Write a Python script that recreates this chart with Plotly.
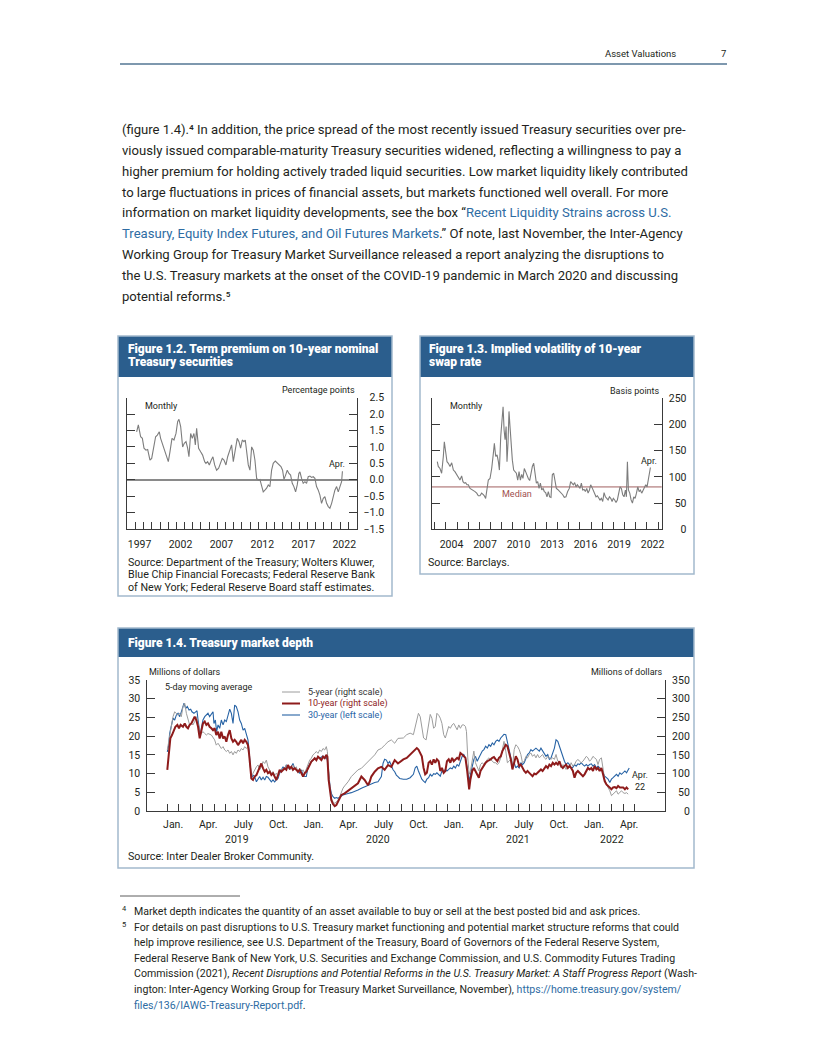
import plotly.graph_objects as go

# ---------------- data ----------------
# Figure 1.2: term premium on 10-year nominal Treasury (percentage points), monthly
TP_YEAR = [1997.14, 1997.35, 1997.63, 1997.84, 1998.04, 1998.28, 1998.49, 1998.77, 1998.98, 1999.18,
           1999.46, 1999.67, 1999.91, 2000.07, 2000.28, 2000.52, 2000.81, 2001.01, 2001.21, 2001.46,
           2001.70, 2001.95, 2002.15, 2002.31, 2002.52, 2002.76, 2002.96, 2003.17, 2003.37, 2003.53,
           2003.74, 2003.94, 2004.14, 2004.31, 2004.47, 2004.71, 2004.96, 2005.20, 2005.45, 2005.61,
           2005.81, 2006.02, 2006.26, 2006.46, 2006.67, 2006.91, 2007.16, 2007.40, 2007.60, 2007.81,
           2008.05, 2008.26, 2008.54, 2008.74, 2008.95, 2009.19, 2009.43, 2009.64, 2009.84, 2010.05,
           2010.25, 2010.41, 2010.58, 2010.78, 2010.98, 2011.19, 2011.39, 2011.59, 2011.80, 2012.00,
           2012.20, 2012.41, 2012.61, 2012.81, 2013.02, 2013.22, 2013.42, 2013.63, 2013.83, 2014.08,
           2014.32, 2014.57, 2014.77, 2014.97, 2015.14, 2015.34, 2015.54, 2015.74, 2015.95, 2016.15,
           2016.35, 2016.56, 2016.76, 2016.96, 2017.09, 2017.29, 2017.49, 2017.70, 2017.90, 2018.10,
           2018.31, 2018.51, 2018.71, 2018.92, 2019.12, 2019.33, 2019.53, 2019.73, 2019.94, 2020.14,
           2020.35, 2020.55, 2020.75, 2020.96, 2021.16, 2021.36, 2021.57, 2021.77, 2021.98, 2022.18,
           2022.28]
TP_VALUE = [1.46, 1.67, 1.31, 1.26, 0.96, 0.90, 0.92, 0.60, 0.65, 0.96,
            1.31, 1.36, 1.46, 1.26, 1.11, 0.90, 0.70, 0.55, 0.85, 1.26,
            1.21, 1.41, 1.77, 1.84, 1.62, 1.00, 1.11, 1.16, 0.96, 0.70,
            1.41, 1.26, 1.41, 1.06, 1.57, 0.96, 0.85, 0.75, 0.55, 0.50,
            0.55, 0.45, 0.60, 0.70, 0.45, 0.29, 0.35, 0.55, 0.65, 0.60,
            0.45, 0.70, 0.90, 1.06, 0.55, 0.85, 1.26, 1.16, 0.96, 1.21,
            1.16, 1.21, 0.80, 0.45, 0.29, 1.00, 0.90, 0.60, 0.04, -0.01,
            0.01, -0.21, -0.37, -0.32, -0.26, -0.16, -0.21, 0.29, 0.50, 0.57,
            0.50, 0.45, 0.40, 0.29, 0.01, 0.14, 0.29, 0.19, 0.14, -0.11,
            -0.21, -0.37, -0.16, 0.19, 0.24, 0.04, -0.11, -0.06, -0.11, 0.09,
            0.11, 0.07, 0.09, 0.04, -0.21, -0.32, -0.47, -0.72, -0.57, -0.52,
            -0.72, -0.82, -0.87, -0.72, -0.52, -0.32, -0.21, -0.37, -0.21, -0.06,
            0.26]
TP_LABEL_YEARS = [1997, 2002, 2007, 2012, 2017, 2022]
TP_YTICKS = [-1.5, -1.0, -0.5, 0.0, 0.5, 1.0, 1.5, 2.0, 2.5]

# Figure 1.3: implied volatility of 10-year swap rate (basis points), monthly
IV_YEAR = [2003.23, 2003.32, 2003.47, 2003.62, 2003.77, 2003.86, 2003.98, 2004.10, 2004.22, 2004.37,
           2004.52, 2004.67, 2004.81, 2004.96, 2005.11, 2005.26, 2005.41, 2005.53, 2005.65, 2005.77,
           2005.89, 2006.01, 2006.16, 2006.31, 2006.46, 2006.61, 2006.76, 2006.90, 2007.05, 2007.20,
           2007.35, 2007.44, 2007.56, 2007.68, 2007.80, 2007.95, 2008.10, 2008.25, 2008.34, 2008.46,
           2008.58, 2008.70, 2008.79, 2008.91, 2009.03, 2009.12, 2009.21, 2009.30, 2009.39, 2009.47,
           2009.56, 2009.65, 2009.74, 2009.83, 2009.95, 2010.07, 2010.19, 2010.31, 2010.43, 2010.55,
           2010.67, 2010.79, 2010.90, 2011.02, 2011.14, 2011.26, 2011.38, 2011.50, 2011.62, 2011.74,
           2011.86, 2011.98, 2012.10, 2012.22, 2012.34, 2012.46, 2012.58, 2012.70, 2012.81, 2012.93,
           2013.05, 2013.17, 2013.29, 2013.41, 2013.53, 2013.65, 2013.77, 2013.89, 2014.01, 2014.16,
           2014.31, 2014.46, 2014.60, 2014.75, 2014.90, 2015.05, 2015.17, 2015.29, 2015.41, 2015.53,
           2015.65, 2015.77, 2015.89, 2016.01, 2016.13, 2016.25, 2016.37, 2016.49, 2016.61, 2016.73,
           2016.85, 2016.96, 2017.08, 2017.20, 2017.32, 2017.44, 2017.56, 2017.68, 2017.80, 2017.92,
           2018.04, 2018.16, 2018.28, 2018.40, 2018.52, 2018.64, 2018.76, 2018.88, 2018.99, 2019.11,
           2019.23, 2019.35, 2019.47, 2019.59, 2019.71, 2019.83, 2019.95, 2020.07, 2020.16, 2020.25,
           2020.34, 2020.46, 2020.58, 2020.70, 2020.82, 2020.94, 2021.06, 2021.18, 2021.30, 2021.41,
           2021.53, 2021.65, 2021.77, 2021.89, 2022.01, 2022.13, 2022.22, 2022.31]
IV_VALUE = [129, 120, 116, 107, 139, 167, 148, 129, 126, 120,
            127, 113, 110, 104, 99, 94, 102, 91, 88, 89,
            85, 85, 78, 76, 75, 72, 69, 64, 64, 69,
            66, 64, 59, 81, 94, 97, 116, 145, 164, 139,
            142, 129, 113, 177, 209, 234, 190, 171, 196, 129,
            164, 225, 196, 164, 132, 113, 110, 107, 94, 110,
            94, 105, 97, 116, 110, 101, 97, 93, 107, 120,
            126, 110, 88, 91, 78, 88, 75, 78, 72, 70,
            62, 72, 62, 61, 104, 107, 94, 78, 76, 73,
            69, 66, 61, 62, 72, 78, 91, 88, 85, 89,
            81, 85, 80, 78, 88, 75, 76, 72, 78, 69,
            75, 85, 80, 75, 69, 62, 64, 59, 56, 59,
            53, 70, 62, 59, 56, 62, 59, 53, 59, 56,
            51, 56, 66, 81, 78, 66, 62, 75, 62, 129,
            75, 69, 56, 50, 62, 59, 69, 81, 72, 75,
            69, 75, 78, 85, 81, 94, 107, 118]
IV_MEDIAN = 81
IV_LABEL_YEARS = [2004, 2007, 2010, 2013, 2016, 2019, 2022]
IV_YTICKS = [0, 50, 100, 150, 200, 250]

# Figure 1.4: Treasury market depth, 5-day moving average (millions of dollars)
# x = months since January 1, 2019
D5_M = [0.00, 0.12, 0.23, 0.35, 0.49, 0.63, 0.77, 0.92, 1.06, 1.20, 1.34, 1.49, 1.63, 1.77, 1.91,
        2.06, 2.20, 2.34, 2.48, 2.63, 2.77, 2.91, 3.05, 3.20, 3.34, 3.48, 3.77, 4.05, 4.19, 4.34,
        4.48, 4.62, 4.77, 4.91, 5.05, 5.19, 5.34, 5.48, 5.62, 5.76, 5.90, 6.05, 6.19, 6.33, 6.48,
        6.62, 6.76, 6.90, 6.99, 7.10, 7.19, 7.33, 7.47, 7.62, 7.76, 7.90, 8.04, 8.19, 8.33, 8.47,
        8.61, 8.76, 8.90, 9.04, 9.18, 9.33, 9.47, 9.61, 9.75, 9.90, 10.04, 10.18, 10.32, 10.47, 10.61,
        10.75, 10.89, 11.04, 11.18, 11.32, 11.47, 11.61, 11.75, 11.89, 12.04, 12.18, 12.32, 12.46, 12.61, 12.75,
        12.89, 13.03, 13.18, 13.32, 13.46, 13.60, 13.69, 13.80, 13.92, 14.03, 14.17, 14.32, 14.46, 14.60, 14.74,
        14.89, 15.03, 15.17, 15.46, 15.74, 16.03, 16.31, 16.60, 16.88, 17.17, 17.45, 17.74, 18.02, 18.31, 18.59,
        18.88, 19.16, 19.45, 19.73, 20.19, 20.48, 20.77, 21.05, 21.34, 21.48, 21.63, 21.77, 21.92, 22.14, 22.35,
        22.49, 22.63, 22.78, 22.92, 23.06, 23.21, 23.35, 23.49, 23.64, 23.78, 23.92, 24.07, 24.21, 24.36, 24.50,
        24.64, 24.79, 24.93, 25.07, 25.22, 25.36, 25.50, 25.59, 25.70, 25.82, 25.93, 26.08, 26.22, 26.36, 26.51,
        26.65, 26.79, 26.94, 27.08, 27.23, 27.37, 27.51, 27.66, 27.80, 27.94, 28.09, 28.23, 28.37, 28.52, 28.66,
        28.80, 28.95, 29.09, 29.23, 29.38, 29.52, 29.67, 29.81, 29.95, 30.10, 30.24, 30.38, 30.53, 30.67, 30.81,
        30.96, 31.10, 31.24, 31.39, 31.53, 31.67, 31.82, 31.96, 32.10, 32.25, 32.39, 32.54, 32.68, 32.82, 32.97,
        33.11, 33.25, 33.40, 33.54, 33.68, 33.83, 33.97, 34.11, 34.26, 34.40, 34.54, 34.69, 34.83, 34.97, 35.12,
        35.26, 35.40, 35.55, 35.69, 35.84, 35.98, 36.12, 36.27, 36.41, 36.55, 36.70, 36.84, 36.98, 37.13, 37.27,
        37.41, 37.56, 37.70, 37.85, 37.99, 38.13, 38.28, 38.42, 38.56, 38.71, 38.85, 38.99, 39.14, 39.28, 39.42]
D5_V = [163, 185, 216, 234, 252, 265, 261, 256, 261, 252, 279, 288, 261, 243, 230,
        234, 230, 239, 252, 234, 216, 207, 212, 207, 203, 207, 203, 190, 176, 181,
        172, 167, 172, 163, 159, 163, 154, 159, 150, 159, 154, 163, 159, 167, 163,
        172, 167, 172, 154, 110, 92, 101, 110, 118, 123, 110, 118, 132, 127, 136,
        118, 110, 101, 105, 96, 101, 92, 105, 110, 114, 110, 123, 118, 110, 118,
        123, 114, 118, 101, 114, 105, 110, 101, 114, 123, 136, 141, 150, 154, 159,
        154, 163, 159, 167, 163, 172, 159, 92, 56, 34, 25, 20, 25, 29, 38,
        52, 61, 67, 78, 92, 101, 110, 114, 123, 132, 141, 150, 163, 167, 176,
        185, 190, 181, 194, 195, 204, 208, 204, 248, 261, 252, 221, 195, 190, 239,
        258, 248, 221, 226, 261, 256, 248, 234, 204, 195, 212, 226, 221, 230, 234,
        226, 217, 230, 221, 230, 230, 226, 212, 142, 98, 107, 133, 160, 129, 115,
        107, 124, 129, 124, 133, 138, 142, 138, 133, 129, 129, 124, 129, 142, 164,
        186, 160, 129, 133, 138, 115, 164, 177, 173, 164, 151, 129, 133, 146, 142,
        151, 155, 146, 151, 142, 151, 142, 146, 151, 142, 138, 146, 142, 138, 142,
        138, 151, 133, 129, 115, 124, 120, 111, 120, 115, 129, 120, 124, 133, 138,
        133, 129, 133, 138, 146, 142, 133, 138, 146, 142, 138, 124, 138, 142, 107,
        85, 71, 63, 54, 41, 45, 49, 54, 45, 49, 54, 49, 47, 49, 45]

D10_M = [0.00, 0.06, 0.15, 0.26, 0.40, 0.54, 0.69, 0.86, 1.00, 1.14, 1.34, 1.49, 1.63, 1.77, 1.91,
         2.06, 2.20, 2.34, 2.48, 2.63, 2.77, 2.91, 3.05, 3.20, 3.34, 3.48, 3.62, 3.77, 3.91, 4.05,
         4.19, 4.34, 4.48, 4.62, 4.77, 4.91, 5.05, 5.19, 5.34, 5.48, 5.62, 5.76, 5.90, 6.05, 6.19,
         6.33, 6.48, 6.62, 6.76, 6.90, 6.99, 7.10, 7.19, 7.33, 7.47, 7.62, 7.76, 7.90, 8.04, 8.19,
         8.33, 8.47, 8.61, 8.76, 8.90, 9.04, 9.18, 9.33, 9.47, 9.61, 9.75, 9.90, 10.04, 10.18, 10.32,
         10.47, 10.61, 10.75, 10.89, 11.04, 11.18, 11.32, 11.47, 11.61, 11.75, 11.89, 12.04, 12.18, 12.32, 12.46,
         12.61, 12.75, 12.89, 13.03, 13.18, 13.32, 13.46, 13.60, 13.69, 13.80, 13.92, 14.03, 14.17, 14.32, 14.46,
         14.60, 14.74, 14.89, 15.17, 15.46, 15.74, 16.03, 16.31, 16.60, 16.88, 17.17, 17.31, 17.45, 17.74, 18.02,
         18.31, 18.59, 18.88, 19.16, 19.45, 19.73, 20.19, 20.48, 20.77, 21.05, 21.20, 21.34, 21.48, 21.63, 21.77,
         21.92, 22.06, 22.20, 22.35, 22.49, 22.63, 22.78, 22.92, 23.06, 23.21, 23.35, 23.49, 23.64, 23.78, 23.92,
         24.07, 24.21, 24.36, 24.50, 24.64, 24.79, 24.93, 25.07, 25.22, 25.36, 25.50, 25.65, 25.73, 25.82, 25.93,
         26.08, 26.22, 26.36, 26.51, 26.65, 26.79, 26.94, 27.08, 27.23, 27.37, 27.51, 27.66, 27.80, 27.94, 28.09,
         28.23, 28.37, 28.52, 28.66, 28.80, 28.95, 29.09, 29.23, 29.38, 29.52, 29.67, 29.81, 29.95, 30.10, 30.24,
         30.38, 30.53, 30.67, 30.81, 30.96, 31.10, 31.24, 31.39, 31.53, 31.67, 31.82, 31.96, 32.10, 32.25, 32.39,
         32.54, 32.68, 32.82, 32.97, 33.11, 33.25, 33.40, 33.54, 33.68, 33.83, 33.97, 34.11, 34.26, 34.40, 34.54,
         34.69, 34.83, 34.97, 35.12, 35.26, 35.40, 35.55, 35.69, 35.84, 35.98, 36.12, 36.27, 36.41, 36.55, 36.70,
         36.84, 36.98, 37.13, 37.27, 37.41, 37.56, 37.70, 37.85, 37.99, 38.13, 38.28, 38.42, 38.56, 38.71, 38.85,
         38.99, 39.14, 39.28, 39.42]
D10_V = [110, 136, 172, 194, 203, 212, 225, 230, 221, 230, 225, 234, 225, 221, 230,
         234, 243, 252, 243, 225, 194, 212, 234, 239, 230, 234, 225, 221, 216, 221,
         203, 212, 194, 212, 194, 199, 185, 203, 216, 194, 185, 190, 185, 176, 185,
         190, 181, 190, 185, 176, 154, 110, 87, 83, 92, 96, 105, 114, 127, 114,
         105, 110, 101, 105, 96, 101, 92, 83, 96, 110, 105, 110, 114, 110, 123,
         114, 118, 110, 114, 110, 105, 110, 101, 92, 101, 105, 114, 123, 132, 136,
         141, 136, 145, 141, 136, 145, 141, 150, 145, 83, 47, 29, 19, 13, 16,
         25, 34, 43, 47, 54, 61, 69, 74, 92, 83, 69, 78, 92, 105, 114,
         118, 110, 123, 118, 136, 127, 138, 142, 151, 160, 164, 168, 164, 155, 146,
         115, 98, 102, 129, 133, 124, 138, 129, 138, 133, 107, 115, 102, 107, 133,
         138, 129, 142, 133, 138, 142, 138, 155, 151, 146, 142, 107, 80, 58, 85,
         107, 115, 107, 98, 89, 107, 115, 124, 129, 133, 135, 138, 142, 144, 138,
         133, 142, 146, 160, 168, 177, 173, 155, 138, 111, 133, 146, 138, 120, 124,
         115, 107, 102, 107, 102, 98, 93, 100, 98, 102, 107, 111, 107, 115, 120,
         115, 124, 120, 129, 124, 129, 124, 133, 120, 115, 120, 124, 115, 120, 115,
         107, 89, 102, 107, 102, 98, 93, 98, 107, 115, 111, 115, 107, 120, 111,
         115, 107, 115, 98, 80, 71, 67, 63, 58, 63, 64, 61, 67, 63, 64,
         63, 58, 63, 58]

D30_M = [0.00, 0.12, 0.20, 0.35, 0.49, 0.63, 0.77, 0.92, 1.06, 1.20, 1.34, 1.43, 1.57, 1.71, 1.86,
         2.00, 2.11, 2.28, 2.43, 2.54, 2.63, 2.71, 2.83, 2.91, 3.05, 3.20, 3.34, 3.48, 3.62, 3.77,
         3.91, 3.99, 4.11, 4.22, 4.34, 4.48, 4.62, 4.77, 4.91, 5.05, 5.19, 5.34, 5.48, 5.62, 5.76,
         5.90, 6.05, 6.19, 6.33, 6.48, 6.62, 6.76, 6.90, 6.99, 7.10, 7.19, 7.33, 7.47, 7.62, 7.76,
         7.90, 8.04, 8.19, 8.33, 8.47, 8.61, 8.76, 8.90, 9.04, 9.18, 9.33, 9.47, 9.61, 9.75, 9.90,
         10.04, 10.18, 10.32, 10.47, 10.61, 10.75, 10.89, 11.04, 11.18, 11.32, 11.47, 11.61, 11.75, 11.89, 12.04,
         12.18, 12.32, 12.46, 12.61, 12.75, 12.89, 13.03, 13.18, 13.32, 13.46, 13.60, 13.69, 13.80, 13.92, 14.03,
         14.17, 14.32, 14.46, 14.60, 14.74, 14.89, 15.03, 15.17, 15.46, 15.74, 16.03, 16.31, 16.60, 16.88, 17.17,
         17.45, 17.74, 18.02, 18.31, 18.45, 18.59, 18.74, 18.88, 19.02, 19.17, 19.31, 19.45, 19.59, 19.73, 19.88,
         20.19, 20.48, 20.77, 21.05, 21.20, 21.34, 21.48, 21.63, 21.77, 21.92, 22.06, 22.20, 22.35, 22.49, 22.63,
         22.78, 22.92, 23.06, 23.21, 23.35, 23.49, 23.64, 23.78, 23.92, 24.07, 24.21, 24.36, 24.50, 24.64, 24.79,
         24.93, 25.07, 25.22, 25.36, 25.50, 25.65, 25.73, 25.82, 25.93, 26.08, 26.22, 26.36, 26.51, 26.65, 26.79,
         26.94, 27.08, 27.23, 27.37, 27.51, 27.66, 27.80, 27.94, 28.09, 28.23, 28.37, 28.52, 28.66, 28.80, 28.95,
         29.09, 29.23, 29.38, 29.52, 29.67, 29.81, 29.95, 30.10, 30.24, 30.38, 30.53, 30.67, 30.81, 30.96, 31.10,
         31.24, 31.39, 31.53, 31.67, 31.82, 31.96, 32.10, 32.25, 32.39, 32.54, 32.68, 32.82, 32.97, 33.11, 33.25,
         33.40, 33.54, 33.68, 33.83, 33.97, 34.11, 34.26, 34.40, 34.54, 34.69, 34.83, 34.97, 35.12, 35.26, 35.40,
         35.55, 35.69, 35.84, 35.98, 36.12, 36.27, 36.41, 36.55, 36.70, 36.84, 36.98, 37.13, 37.27, 37.41, 37.56,
         37.70, 37.85, 37.99, 38.13, 38.28, 38.42, 38.56, 38.71, 38.85, 38.99, 39.14, 39.28, 39.42, 39.51]
D30_V = [15.8, 17.6, 20.7, 23.0, 24.8, 24.3, 25.6, 26.1, 25.2, 26.5, 27.9, 28.8, 27.4, 27.9, 27.0,
         27.2, 26.5, 26.1, 26.5, 26.8, 24.3, 22.5, 19.9, 22.1, 24.3, 25.2, 25.6, 26.1, 25.2, 25.9,
         26.5, 23.4, 24.3, 21.2, 23.0, 22.1, 24.3, 23.0, 24.3, 23.9, 25.2, 27.2, 26.1, 23.4, 28.3,
         27.9, 26.5, 24.3, 23.4, 21.6, 22.1, 20.3, 19.0, 16.3, 11.8, 8.7, 9.6, 9.2, 7.8, 8.7,
         9.2, 8.3, 9.0, 8.3, 9.2, 9.0, 8.3, 7.8, 8.3, 7.8, 8.3, 8.7, 10.1, 11.0, 11.8,
         11.0, 12.3, 11.8, 11.0, 11.8, 12.7, 11.4, 11.0, 10.5, 10.1, 11.0, 9.6, 9.2, 9.2, 11.8,
         12.7, 13.2, 13.6, 14.1, 13.8, 14.5, 14.1, 14.3, 14.7, 14.1, 14.3, 13.6, 9.2, 6.5, 4.7,
         3.8, 3.4, 3.6, 3.4, 3.8, 4.0, 4.3, 4.5, 4.7, 4.9, 5.2, 5.6, 6.1, 6.5, 6.9,
         7.1, 7.6, 7.8, 9.2, 12.7, 13.8, 13.6, 12.7, 13.2, 11.8, 11.0, 10.5, 9.6, 9.2, 8.7,
         8.5, 8.5, 8.9, 9.8, 11.5, 12.0, 10.7, 9.3, 8.5, 8.0, 7.6, 8.5, 8.9, 9.8, 9.3,
         10.0, 9.8, 10.2, 9.8, 9.3, 10.7, 10.2, 11.1, 10.7, 11.1, 11.5, 11.3, 12.0, 11.5, 12.4,
         12.0, 13.3, 14.6, 15.1, 14.2, 11.5, 9.3, 8.0, 9.8, 12.4, 13.8, 14.6, 13.3, 14.2, 15.1,
         16.0, 16.4, 17.3, 16.8, 17.7, 17.3, 18.2, 17.7, 18.6, 19.0, 18.6, 19.5, 19.9, 20.5, 20.4,
         18.6, 16.8, 14.2, 12.4, 12.9, 11.5, 12.0, 11.5, 12.9, 12.4, 12.9, 14.2, 15.1, 15.5, 16.4,
         16.0, 16.4, 16.8, 16.4, 16.0, 16.8, 16.0, 15.5, 14.6, 15.1, 13.8, 14.2, 15.5, 16.8, 19.0,
         18.6, 17.3, 16.0, 14.2, 13.3, 12.4, 12.9, 12.4, 11.5, 11.7, 12.4, 12.0, 12.6, 12.4, 12.9,
         12.4, 12.0, 12.4, 12.0, 12.4, 12.6, 12.0, 12.4, 11.5, 12.0, 11.5, 11.1, 10.2, 9.3, 8.9,
         8.5, 7.6, 8.5, 8.9, 9.3, 9.8, 9.3, 10.2, 9.8, 10.2, 10.7, 10.2, 11.1, 11.5]
MD_MONTH_LABELS = ["Jan.", "Apr.", "July", "Oct.", "Jan.", "Apr.", "July", "Oct.",
                   "Jan.", "Apr.", "July", "Oct.", "Jan.", "Apr."]
MD_YEAR_LABELS = ["2019", "2020", "2021", "2022"]
MD_LEFT_TICKS = [0, 5, 10, 15, 20, 25, 30, 35]
MD_RIGHT_TICKS = [0, 50, 100, 150, 200, 250, 300, 350]

# ---------------- layout helpers ----------------
# The page body adds an 8 px margin; the figure is sized so that page
# coordinates (0..816, 0..1056) map onto it with that offset.
OFF = 8
W, H = 816 - OFF, 1056 - OFF
FONT = "Roboto"
TXT = "#231f20"
AX = "#3a3a3a"
BAR = "#2b5e8d"
BORDER = "#a3b9cd"
LINK = "#2e6ca3"


def px(x):
    return (x - OFF) / W


def py(y):
    return 1 - (y - OFF) / H


def note(x, y, s, size=10.3, color=TXT, xanchor="left", weight="normal", xref="paper"):
    return dict(x=px(x) if xref == "paper" else x, y=py(y), xref=xref, yref="paper",
                text=s, showarrow=False, xanchor=xanchor, yanchor="middle",
                font=dict(family=FONT, size=size, color=color, weight=weight))


def pad(s, n):
    return "\u2007" * (n - len(s)) + s


def fmt_tp(v):
    return ("\u2212" if v < 0 else "\u2007") + f"{abs(v):.1f}"


fig = go.Figure()

# Figure 1.2 trace
fig.add_trace(go.Scatter(x=TP_YEAR, y=TP_VALUE, mode="lines", xaxis="x", yaxis="y",
                         line=dict(color="#7d7d7d", width=1.1), showlegend=False, hoverinfo="skip"))
# Figure 1.3 trace
fig.add_trace(go.Scatter(x=IV_YEAR, y=IV_VALUE, mode="lines", xaxis="x2", yaxis="y2",
                         line=dict(color="#7d7d7d", width=1.1), showlegend=False, hoverinfo="skip"))
# Figure 1.4 traces
fig.add_trace(go.Scatter(x=D5_M, y=D5_V, mode="lines", xaxis="x3", yaxis="y4",
                         line=dict(color="#9c9c9c", width=1.0), showlegend=False, hoverinfo="skip"))
fig.add_trace(go.Scatter(x=D30_M, y=D30_V, mode="lines", xaxis="x3", yaxis="y3",
                         line=dict(color="#2763a5", width=1.1), showlegend=False, hoverinfo="skip"))
fig.add_trace(go.Scatter(x=D10_M, y=D10_V, mode="lines", xaxis="x3", yaxis="y4",
                         line=dict(color="#8e1b1b", width=2.0), showlegend=False, hoverinfo="skip"))

tickfont = dict(family=FONT, size=10.5, color=TXT)
common_x = dict(showgrid=False, zeroline=False, showline=True, linecolor=AX, linewidth=1,
                ticks="inside", ticklen=0, tickfont=tickfont, automargin=False, fixedrange=True)
common_y = dict(showgrid=False, showline=True, linecolor=AX, linewidth=1, ticks="inside",
                ticklen=8, tickcolor=AX, tickwidth=1, tickfont=tickfont, automargin=False,
                fixedrange=True)

fig.update_layout(
    width=W, height=H, margin=dict(l=0, r=0, t=0, b=0), autosize=False,
    paper_bgcolor="white", plot_bgcolor="rgba(0,0,0,0)", showlegend=False,
    font=dict(family=FONT, color=TXT),
    # ---- Figure 1.2
    xaxis=dict(common_x, domain=[px(127.3), px(356.5)], range=[1996, 2024], anchor="y",
               tickvals=[yr + 0.5 for yr in TP_LABEL_YEARS], ticktext=[str(yr) for yr in TP_LABEL_YEARS],
               ticklabelstandoff=5,
               minor=dict(tickvals=list(range(1996, 2025)), ticks="inside", ticklen=7,
                          tickcolor=AX, tickwidth=1)),
    yaxis=dict(common_y, domain=[py(528.9), py(397.7)], range=[-1.5, 2.5], anchor="x", side="right",
               mirror="ticks", tickvals=TP_YTICKS, ticktext=[fmt_tp(v) for v in TP_YTICKS],
               zeroline=True, zerolinecolor="#8a8a8a", zerolinewidth=1.5, ticklabelstandoff=4),
    # ---- Figure 1.3
    xaxis2=dict(common_x, domain=[px(431.7), px(661.7)], range=[2002.73, 2023.32], anchor="y2",
                tickvals=[yr + 0.5 for yr in IV_LABEL_YEARS], ticktext=[str(yr) for yr in IV_LABEL_YEARS],
                ticklabelstandoff=5,
                minor=dict(tickvals=list(range(2003, 2024)), ticks="inside", ticklen=7,
                           tickcolor=AX, tickwidth=1)),
    yaxis2=dict(common_y, domain=[py(529.3), py(398.3)], range=[0, 250], anchor="x2", side="right",
                mirror="ticks", tickvals=IV_YTICKS, ticktext=[pad(str(v), 3) for v in IV_YTICKS],
                zeroline=False, ticklabelstandoff=4),
    # ---- Figure 1.4
    xaxis3=dict(common_x, domain=[px(147.3), px(665)], range=[-1.711, 42.57], anchor="y3",
                tickvals=[3 * i + 0.5 for i in range(len(MD_MONTH_LABELS))], ticktext=MD_MONTH_LABELS,
                ticklabelstandoff=3,
                minor=dict(tickvals=list(range(0, 41)), ticks="inside", ticklen=7,
                           tickcolor=AX, tickwidth=1)),
    yaxis3=dict(common_y, domain=[py(811), py(680)], range=[0, 35], anchor="x3", side="left",
                tickvals=MD_LEFT_TICKS, zeroline=False, ticklabelstandoff=4),
    yaxis4=dict(common_y, domain=[py(811), py(680)], range=[0, 350], anchor="x3", side="right",
                overlaying="y3", tickvals=MD_RIGHT_TICKS,
                ticktext=[pad(str(v), 3) for v in MD_RIGHT_TICKS], zeroline=False, ticklabelstandoff=4),
)

shapes = []
# header rule
shapes.append(dict(type="line", xref="paper", yref="paper", x0=px(120), x1=px(727), y0=py(64), y1=py(64),
                   line=dict(color="#7e98ae", width=2)))
# panels: title bars and borders
for (x0, x1, y0, ybar, y1) in [(118, 392, 336, 377, 596), (420, 694, 336, 377, 574), (118, 694, 628, 657, 868)]:
    shapes.append(dict(type="rect", xref="paper", yref="paper", x0=px(x0), x1=px(x1), y0=py(ybar), y1=py(y0),
                       fillcolor=BAR, line=dict(width=0), layer="below"))
    shapes.append(dict(type="rect", xref="paper", yref="paper", x0=px(x0), x1=px(x1), y0=py(y1), y1=py(y0),
                       fillcolor="rgba(0,0,0,0)", line=dict(color=BORDER, width=1.5)))
# median line of figure 1.3
shapes.append(dict(type="line", xref="x2 domain", yref="y2", x0=0, x1=1, y0=IV_MEDIAN, y1=IV_MEDIAN,
                   line=dict(color="#c9a3a3", width=1.8), layer="below"))
# legend swatches figure 1.4
for (yy, col, wd) in [(692, "#9c9c9c", 1.0), (703.5, "#8e1b1b", 2.0), (715, "#2763a5", 1.1)]:
    shapes.append(dict(type="line", xref="paper", yref="paper", x0=px(282), x1=px(300), y0=py(yy), y1=py(yy),
                       line=dict(color=col, width=wd)))
# footnote rule
shapes.append(dict(type="line", xref="paper", yref="paper", x0=px(120), x1=px(240), y0=py(896), y1=py(896),
                   line=dict(color="#333333", width=0.8)))

ann = []
# header
ann.append(note(678, 54, "Asset Valuations", size=9.5, xanchor="right"))
ann.append(note(719, 54, "7", size=9.5))

# body paragraph
L = lambda s: f"<span style='color:{LINK}'>{s}</span>"
para = [
    "(figure 1.4).\u2074 In addition, the price spread of the most recently issued Treasury securities over pre-",
    "viously issued comparable-maturity Treasury securities widened, reflecting a willingness to pay a",
    "higher premium for holding actively traded liquid securities. Low market liquidity likely contributed",
    "to large fluctuations in prices of financial assets, but markets functioned well overall. For more",
    "information on market liquidity developments, see the box \u201c" + L("Recent Liquidity Strains across U.S."),
    L("Treasury, Equity Index Futures, and Oil Futures Markets") + ".\u201d Of note, last November, the Inter-Agency",
    "Working Group for Treasury Market Surveillance released a report analyzing the disruptions to",
    "the U.S. Treasury markets at the onset of the COVID-19 pandemic in March 2020 and discussing",
    "potential reforms.\u2075",
]
for i, s in enumerate(para):
    ann.append(note(120, 130 + 20.75 * i, s, size=13.1))

# figure titles
TW = 900
ann.append(note(126, 348.5, "Figure 1.2. Term premium on 10-year nominal", size=12, color="white", weight=TW))
ann.append(note(126, 362, "Treasury securities", size=12, color="white", weight=TW))
ann.append(note(427, 348.5, "Figure 1.3. Implied volatility of 10-year", size=12, color="white", weight=TW))
ann.append(note(427, 362, "swap rate", size=12, color="white", weight=TW))
ann.append(note(126, 643, "Figure 1.4. Treasury market depth", size=12, color="white", weight=TW))

# figure 1.2 labels
ann.append(note(357, 390, "Percentage points", size=9, xanchor="right"))
ann.append(note(143, 406, "Monthly", size=9))
ann.append(note(347, 463.5, "Apr.", size=9, xanchor="right"))
ann.append(note(126, 562, "Source: Department of the Treasury; Wolters Kluwer,", size=10.7))
ann.append(note(126, 574.5, "Blue Chip Financial Forecasts; Federal Reserve Bank", size=10.7))
ann.append(note(126, 587, "of New York; Federal Reserve Board staff estimates.", size=10.7))

# figure 1.3 labels
ann.append(note(662, 391, "Basis points", size=9, xanchor="right"))
ann.append(note(448, 406, "Monthly", size=9))
ann.append(note(649, 461, "Apr.", size=9, xanchor="center"))
ann.append(note(517, 494, "Median", size=9, color="#a0504e", xanchor="center"))
ann.append(note(426, 562, "Source: Barclays.", size=10.7))

# figure 1.4 labels
ann.append(note(147, 672, "Millions of dollars", size=9))
ann.append(note(665, 672, "Millions of dollars", size=9, xanchor="right"))
ann.append(note(163, 687, "5-day moving average", size=9))
ann.append(note(306, 692, "5-year (right scale)", size=9, color="#333333"))
ann.append(note(306, 703.5, "10-year (right scale)", size=9, color="#8e1b1b"))
ann.append(note(306, 715, "30-year (left scale)", size=9, color="#2763a5"))
ann.append(note(640, 775, "Apr.", size=9, xanchor="center"))
ann.append(note(640, 787, "22", size=9, xanchor="center"))
for lab, xm in zip(MD_YEAR_LABELS, [6, 18, 30, 38]):
    ann.append(note(xm, 839, lab, size=10.5, xanchor="center", xref="x3"))
ann.append(note(126, 856, "Source: Inter Dealer Broker Community.", size=10.7))

# footnotes
ann.append(note(120, 908, "4", size=7.5))
ann.append(note(132, 911, "Market depth indicates the quantity of an asset available to buy or sell at the best posted bid and ask prices.", size=10.6))
ann.append(note(120, 924, "5", size=7.5))
fn5 = [
    "For details on past disruptions to U.S. Treasury market functioning and potential market structure reforms that could",
    "help improve resilience, see U.S. Department of the Treasury, Board of Governors of the Federal Reserve System,",
    "Federal Reserve Bank of New York, U.S. Securities and Exchange Commission, and U.S. Commodity Futures Trading",
    "Commission (2021), <i>Recent Disruptions and Potential Reforms in the U.S. Treasury Market: A Staff Progress Report</i> (Wash-",
    "ington: Inter-Agency Working Group for Treasury Market Surveillance, November), " + L("https://home.treasury.gov/system/"),
    L("files/136/IAWG-Treasury-Report.pdf") + ".",
]
for i, s in enumerate(fn5):
    ann.append(note(132, 927 + 15.6 * i, s, size=10.6))

fig.update_layout(shapes=shapes, annotations=ann)
fig.write_html("out.html")
